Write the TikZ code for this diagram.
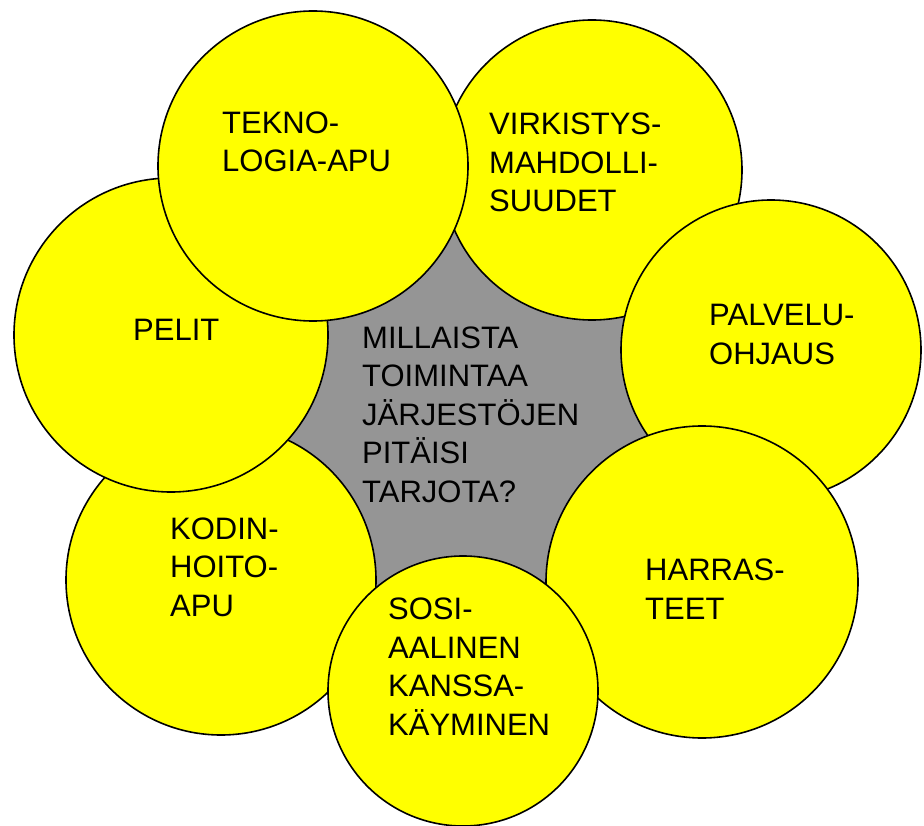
\documentclass[tikz,border=0pt]{standalone}
\usepackage{fontspec}
\setmainfont{Liberation Sans}
\definecolor{bubyellow}{HTML}{FFFF00}
\definecolor{centergray}{HTML}{959595}
\tikzset{
  bub/.style={circle, draw=black, line width=1.6pt, fill=bubyellow, inner sep=0pt},
  lbl/.style={align=left, inner sep=0pt, anchor=base west, text=black,
              font=\fontsize{31}{38.5}\selectfont}
}
\begin{document}
\begin{tikzpicture}[x=1pt,y=-1pt]
\useasboundingbox (0,0) rectangle (924,826);
% centers
\coordinate (cT) at (313,166);
\coordinate (cV) at (592,170);
\coordinate (cP) at (771,350);
\coordinate (cH) at (702,582);
\coordinate (cS) at (463,691);
\coordinate (cK) at (221,580);
\coordinate (cL) at (171,335);
% gray centre region
\fill[centergray] (cT) -- (cV) -- (cP) -- (cH) -- (cS) -- (cK) -- (cL) -- cycle;
% bubbles (drawing order matters)
\node[bub, minimum size=300pt] (virk) at (cV) {};
\node[bub, minimum size=300pt] (palv) at (cP) {};
\node[bub, minimum size=312pt] (harr) at (cH) {};
\node[bub, minimum size=310pt] (kodin) at (cK) {};
\node[bub, minimum size=270pt] (sosi) at (cS) {};
\node[bub, minimum size=314pt] (pelit) at (cL) {};
\node[bub, minimum size=310pt] (tekno) at (cT) {};
% labels (anchor = baseline of last line)
\node[lbl] (tTekno) at (222,172) {TEKNO-\\LOGIA-APU};
\node[lbl] (tVirk) at (489,212) {VIRKISTYS-\\MAHDOLLI-\\SUUDET};
\node[lbl] (tPelit) at (133,341) {PELIT};
\node[lbl] (tPalv) at (709,364) {PALVELU-\\OHJAUS};
\node[lbl] (tCenter) at (362,502) {MILLAISTA\\TOIMINTAA\\JÄRJESTÖJEN\\PITÄISI\\TARJOTA?};
\node[lbl] (tKodin) at (170,616) {KODIN-\\HOITO-\\APU};
\node[lbl] (tHarr) at (645,619) {HARRAS-\\TEET};
\node[lbl] (tSosi) at (388,735) {SOSI-\\AALINEN\\KANSSA-\\KÄYMINEN};
\end{tikzpicture}
\end{document}
